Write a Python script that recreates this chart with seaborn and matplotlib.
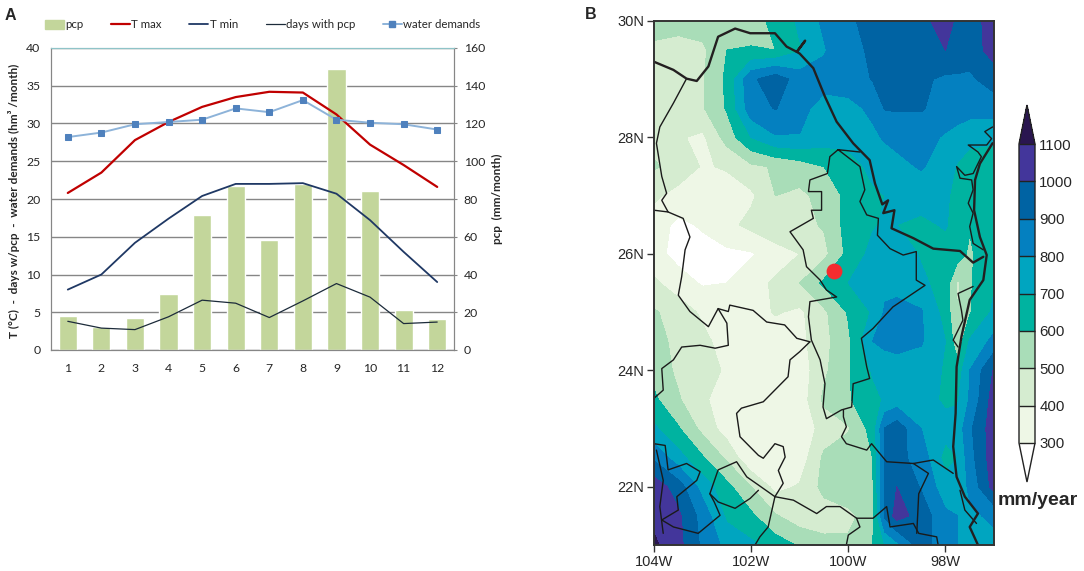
import numpy as np
import seaborn as sns
import matplotlib.pyplot as plt
from matplotlib.colors import ListedColormap, BoundaryNorm
from matplotlib.lines import Line2D
from matplotlib.patches import Patch

# panel A
months = list(range(1, 13))
pcp = [18, 12, 17, 29.5, 71.5, 87, 58.5, 88, 149, 84, 21, 16.5]
t_max = [20.8, 23.5, 27.8, 30.2, 32.2, 33.5, 34.2, 34.1, 31.2, 27.2, 24.5, 21.6]
t_min = [8.0, 10.0, 14.2, 17.4, 20.4, 22.0, 22.0, 22.1, 20.7, 17.2, 13.0, 9.0]
days_pcp = [3.8, 2.9, 2.7, 4.4, 6.6, 6.2, 4.3, 6.5, 8.8, 7.0, 3.5, 3.7]
water = [28.2, 28.8, 29.9, 30.2, 30.5, 32.0, 31.5, 33.1, 30.5, 30.1, 29.9, 29.2]

# panel B, rainfall, north to south (extra columns where the bands are tight)
lons = [-104, -103.5, -103, -102.5, -102, -101.5, -101, -100.5, -100, -99.5, -99.25, -99, -98.5, -98, -97.75, -97.5, -97]
lats = [30, 29.5, 29, 28.5, 28, 27.5, 27, 26.5, 26, 25.5, 25, 24.5, 24, 23.5, 23, 22.5, 22, 21.5, 21]
rain = [
    [520, 540, 550, 560, 570, 620, 720, 820, 880, 940, 950, 960, 980, 1030, 985, 960, 1040],
    [490, 460, 480, 600, 605, 600, 690, 790, 890, 905, 915, 950, 960, 1000, 985, 950, 1040],
    [480, 470, 490, 620, 880, 960, 850, 840, 850, 905, 905, 920, 920, 880, 880, 880, 950],
    [470, 460, 490, 610, 860, 905, 830, 760, 770, 820, 905, 910, 910, 850, 850, 840, 840],
    [470, 410, 380, 540, 700, 790, 795, 750, 740, 780, 810, 830, 830, 790, 760, 730, 720],
    [510, 470, 390, 410, 480, 510, 550, 600, 650, 730, 750, 770, 810, 750, 690, 650, 640],
    [420, 360, 340, 350, 380, 500, 480, 530, 630, 680, 700, 720, 740, 720, 660, 620, 680],
    [340, 280, 310, 370, 430, 500, 470, 510, 640, 690, 710, 700, 680, 710, 650, 610, 690],
    [330, 270, 270, 280, 290, 340, 400, 470, 630, 730, 750, 760, 690, 660, 650, 580, 700],
    [420, 340, 290, 300, 350, 420, 500, 620, 700, 780, 780, 790, 720, 660, 480, 590, 690],
    [510, 460, 380, 340, 350, 410, 380, 480, 610, 710, 810, 810, 810, 660, 500, 590, 720],
    [540, 470, 430, 350, 330, 330, 370, 470, 580, 800, 830, 830, 810, 700, 530, 710, 830],
    [560, 480, 430, 390, 320, 320, 340, 480, 590, 710, 730, 760, 750, 690, 640, 800, 1010],
    [620, 510, 420, 340, 310, 310, 340, 520, 590, 670, 710, 740, 750, 680, 690, 810, 1050],
    [720, 610, 470, 350, 300, 310, 330, 440, 490, 640, 905, 960, 800, 740, 740, 880, 1060],
    [880, 740, 610, 480, 310, 300, 340, 520, 560, 600, 900, 930, 860, 660, 700, 860, 1060],
    [1060, 950, 760, 630, 500, 370, 410, 530, 580, 585, 905, 1000, 890, 740, 730, 820, 1040],
    [1070, 1020, 860, 680, 620, 510, 440, 450, 470, 560, 920, 1040, 960, 820, 800, 780, 820],
    [1120, 1030, 880, 770, 720, 650, 590, 530, 520, 600, 700, 770, 950, 830, 800, 770, 770],
]
levels = [300, 400, 500, 600, 700, 800, 900, 1000, 1100]
band_colors = ['#eef7e6', '#d5ecd0', '#a9ddb8', '#00b3a0', '#00a5c0', '#0480c0', '#0063a3', '#43369b']
site = (-100.30, 25.70)

# borders as lon, lat
rio_grande = [(-104.00, 29.30), (-103.60, 29.16), (-103.33, 29.01), (-103.12, 28.97), (-102.88, 29.22),
              (-102.68, 29.73), (-102.33, 29.87), (-102.02, 29.79), (-101.51, 29.79), (-101.27, 29.56),
              (-101.06, 29.47), (-100.89, 29.66), (-101.06, 29.47), (-101.00, 29.44), (-100.72, 29.19),
              (-100.48, 28.70), (-100.24, 28.27), (-99.90, 27.90), (-99.56, 27.61), (-99.45, 27.21),
              (-99.30, 26.85), (-99.18, 26.92), (-99.28, 26.70), (-99.05, 26.75), (-99.11, 26.44),
              (-98.66, 26.27), (-98.25, 26.09), (-97.70, 26.05), (-97.43, 25.85), (-97.22, 25.95)]
coast = [(-97.03, 27.90), (-97.29, 27.55), (-97.39, 27.27), (-97.41, 26.75), (-97.29, 26.29), (-97.15, 25.98),
         (-97.22, 25.55), (-97.50, 25.21), (-97.67, 24.58), (-97.77, 24.06), (-97.79, 23.26), (-97.84, 22.69),
         (-97.77, 22.17), (-97.60, 21.83), (-97.33, 21.54), (-97.50, 21.31), (-97.33, 21.00)]
thin_lines = [
    [(-97.03, 28.18), (-97.19, 28.10), (-97.05, 27.98), (-97.15, 27.87), (-97.53, 27.87), (-97.33, 27.75),
     (-97.26, 27.67), (-97.43, 27.38), (-97.60, 27.35), (-97.77, 27.50), (-97.70, 27.30), (-97.46, 27.27),
     (-97.43, 27.10), (-97.53, 26.87), (-97.43, 26.70), (-97.50, 26.47), (-97.43, 26.18), (-97.22, 26.07)],
    [(-97.43, 25.44), (-97.74, 25.32), (-97.67, 25.03), (-97.64, 24.86), (-97.84, 24.52), (-97.74, 24.40)],
    [(-97.70, 21.94), (-97.60, 21.60), (-97.36, 21.37)],
    [(-103.33, 29.01), (-103.60, 28.59), (-103.88, 28.18), (-103.95, 27.90), (-103.84, 27.33), (-103.74, 27.04),
     (-103.84, 26.92), (-103.71, 26.72), (-103.40, 26.61), (-103.26, 26.29), (-103.36, 26.07), (-103.43, 25.61),
     (-103.50, 25.29), (-103.26, 25.01), (-102.88, 24.75), (-102.68, 25.06), (-102.47, 25.01), (-102.44, 25.12),
     (-101.96, 25.03), (-101.68, 24.83), (-101.31, 24.78), (-101.06, 24.55), (-100.79, 24.49)],
    [(-104.00, 26.75), (-103.71, 26.72)],
    [(-99.76, 27.75), (-100.21, 27.79), (-100.38, 27.67), (-100.43, 27.38), (-100.79, 27.27), (-100.82, 27.07),
     (-100.55, 27.07), (-100.55, 26.75), (-100.76, 26.75), (-100.72, 26.61), (-101.20, 26.38), (-100.93, 26.07),
     (-100.86, 25.78), (-100.58, 25.55), (-100.45, 25.38), (-100.24, 25.26), (-100.79, 25.18), (-100.82, 24.92),
     (-100.76, 24.52), (-100.58, 24.18), (-100.48, 23.77), (-100.52, 23.37), (-100.45, 23.17), (-100.14, 23.32),
     (-99.93, 23.37), (-99.90, 23.77), (-99.56, 23.86), (-99.62, 24.06), (-99.73, 24.55), (-99.49, 24.72),
     (-99.08, 25.09), (-98.42, 25.46), (-98.60, 25.55), (-98.60, 26.04), (-98.87, 25.98), (-99.14, 26.09),
     (-99.40, 26.32), (-99.38, 26.61), (-99.62, 26.67), (-99.76, 26.90), (-99.66, 27.10), (-99.76, 27.50),
     (-99.93, 27.61), (-100.21, 27.79)],
    [(-100.79, 24.49), (-101.00, 24.32), (-101.20, 24.18), (-101.24, 23.89), (-101.75, 23.46), (-102.20, 23.35),
     (-102.30, 23.26), (-102.23, 22.86), (-101.85, 22.54), (-101.75, 22.49), (-101.51, 22.74), (-101.34, 22.69),
     (-101.30, 22.51), (-101.44, 22.28), (-101.34, 22.06), (-101.51, 21.83)],
    [(-104.00, 23.52), (-103.81, 23.66), (-103.84, 24.03), (-103.60, 24.18), (-103.43, 24.40), (-103.05, 24.43),
     (-102.74, 24.38), (-102.47, 24.43), (-102.50, 24.81), (-102.68, 25.06)],
    [(-101.51, 21.83), (-101.85, 22.03), (-102.09, 22.17), (-102.30, 22.43), (-102.68, 22.29), (-102.85, 21.88),
     (-102.68, 21.74), (-102.33, 21.63), (-102.02, 21.80), (-101.85, 21.94)],
    [(-101.51, 21.83), (-101.13, 21.77), (-100.65, 21.54), (-100.45, 21.66), (-100.17, 21.66), (-99.83, 21.46),
     (-99.49, 21.46), (-99.21, 21.66), (-99.14, 21.31), (-98.66, 21.37), (-98.55, 21.20), (-98.18, 21.14), (-98.15, 21.00)],
    [(-101.51, 21.83), (-101.65, 21.31), (-101.82, 21.14), (-101.92, 21.00)],
    [(-99.83, 21.46), (-99.76, 21.31), (-100.00, 21.17), (-100.04, 21.00)],
    [(-100.10, 23.32), (-100.10, 23.20), (-100.04, 23.03), (-100.14, 22.86), (-100.04, 22.74), (-99.62, 22.63),
     (-99.52, 22.74), (-99.21, 22.43), (-98.66, 22.40), (-98.25, 22.46), (-97.84, 22.23)],
    [(-98.66, 22.40), (-98.35, 22.23), (-98.55, 21.88), (-98.59, 21.20)],
    [(-104.00, 22.74), (-103.77, 22.71), (-103.71, 22.29), (-103.33, 22.40), (-103.05, 22.26), (-103.12, 22.11),
     (-103.53, 21.83), (-103.50, 21.60), (-103.84, 21.43), (-103.60, 21.31), (-103.09, 21.20), (-102.64, 21.51),
     (-102.76, 21.74), (-102.85, 21.88)],
    [(-103.95, 22.63), (-103.81, 22.11), (-103.88, 21.66), (-103.81, 21.20)],
]

sns.set_style('white')
plt.rcParams['font.family'] = ['Lato', 'DejaVu Sans']
W, H = 1084, 571
fig = plt.figure(figsize=(W / 100, H / 100), dpi=100)


def px_axes(x0, y0, x1, y1):
    return fig.add_axes([x0 / W, 1 - y1 / H, (x1 - x0) / W, (y1 - y0) / H])


# panel A
ax = px_axes(51, 48, 454, 350)
ax_r = ax.twinx()
sns.barplot(x=months, y=pcp, ax=ax_r, native_scale=True, color='#c3d69b', saturation=1, width=0.54)
ax_r.set_ylim(0, 160)
ax_r.set_yticks(range(0, 161, 20))
ax_r.yaxis.grid(True, color='#868686', lw=1)
ax_r.set_axisbelow(True)
ax_r.set_ylabel('pcp  (mm/month)', fontsize=8.5, fontweight='bold')
ax_r.yaxis.set_label_coords((492 - 51) / 403, 0.5)

sns.lineplot(x=months, y=t_max, ax=ax, color='#c00000', lw=1.6)
sns.lineplot(x=months, y=t_min, ax=ax, color='#1f3864', lw=1.3)
sns.lineplot(x=months, y=days_pcp, ax=ax, color='#1c2b3a', lw=0.9)
sns.lineplot(x=months, y=water, ax=ax, color='#8db3d9', lw=1.4, marker='s', ms=5,
             mfc='#4f81bd', mec='#4f81bd')
ax.set_zorder(ax_r.get_zorder() + 1)
ax.patch.set_visible(False)
ax.set_xlim(0.5, 12.5)
ax.set_ylim(0, 40)
ax.set_xticks(months)
ax.set_yticks(range(0, 41, 5))
ax.set_ylabel('T (°C)  -  days w/pcp  -  water demands (hm³ /month)', fontsize=8.5, fontweight='bold')
ax.yaxis.set_label_coords((20 - 51) / 403, 0.495)
ax.tick_params(axis='y', labelsize=8.8, length=0, pad=7.5)
ax.tick_params(axis='x', labelsize=8.8, length=0, pad=9)
ax_r.tick_params(axis='y', labelsize=8.8, length=2.5, color='#868686', pad=4.5, direction='out', right=True)
for a in (ax, ax_r):
    for side in ('left', 'right', 'bottom'):
        a.spines[side].set_color('#868686')
    a.spines['top'].set_color('#8fc4c8')

handles = [Patch(color='#c3d69b'),
           Line2D([], [], color='#c00000', lw=1.6),
           Line2D([], [], color='#1f3864', lw=1.3),
           Line2D([], [], color='#1c2b3a', lw=0.9),
           Line2D([], [], color='#8db3d9', lw=1.4, marker='s', ms=5, mfc='#4f81bd', mec='#4f81bd')]
fig.legend(handles, ['pcp', 'T max', 'T min', 'days with pcp', 'water demands'], ncol=5, frameon=False,
           fontsize=8.3, handlelength=1.65, handletextpad=0.1, columnspacing=2.4,
           loc='center left', bbox_to_anchor=(45 / W, 1 - 25 / H), borderaxespad=0, borderpad=0)

fig.text(5 / W, 1 - 20 / H, 'A', fontsize=11.5, fontweight='bold', family=['Liberation Sans'])
fig.text(585 / W, 1 - 19 / H, 'B', fontsize=11.5, fontweight='bold', family=['Liberation Sans'])

# panel B
mp = px_axes(654, 21, 994, 545)
cmap = ListedColormap(band_colors)
cmap.set_under('white')
cmap.set_over('#2a1650')
norm = BoundaryNorm(levels, cmap.N)
cf = mp.contourf(lons, lats, np.array(rain), levels=levels, cmap=cmap, norm=norm, extend='both')
for line in thin_lines:
    xy = np.array(line)
    sns.lineplot(x=xy[:, 0], y=xy[:, 1], ax=mp, color='#1a1a1a', lw=1.0, sort=False, estimator=None)
for line in (rio_grande, coast):
    xy = np.array(line)
    sns.lineplot(x=xy[:, 0], y=xy[:, 1], ax=mp, color='#231f20', lw=1.7, sort=False, estimator=None)
mp.scatter(*site, s=130, color='#f42c2f', zorder=5, linewidths=0)
mp.set_xlim(-104, -97)
mp.set_ylim(21, 30)
mp.set_xticks([-104, -102, -100, -98], ['104W', '102W', '100W', '98W'])
mp.set_yticks([30, 28, 26, 24, 22], ['30N', '28N', '26N', '24N', '22N'])
mp.tick_params(axis='both', labelsize=10.5, length=5, width=1, color='#333333', direction='out',
               bottom=True, left=True, pad=2)
for lab in mp.get_xticklabels() + mp.get_yticklabels():
    lab.set_family(['Liberation Sans'])
for side in mp.spines.values():
    side.set_color('#333333')
    side.set_linewidth(1.4)

cax = px_axes(1019, 105, 1035, 482)
cb = fig.colorbar(cf, cax=cax, drawedges=True, extendfrac=39 / 299, ticks=levels)
cb.ax.tick_params(labelsize=10.8, length=0, pad=3)
for lab in cb.ax.get_yticklabels():
    lab.set_family(['Liberation Sans'])
cb.outline.set_edgecolor('#222222')
cb.outline.set_linewidth(1)
cb.dividers.set_color('#222222')
cb.dividers.set_linewidth(1)
fig.text(1038 / W, 1 - 505 / H, 'mm/year', fontsize=14, fontweight='bold', ha='center',
         family=['Liberation Sans'])

fig.savefig('out.png', dpi=100)
